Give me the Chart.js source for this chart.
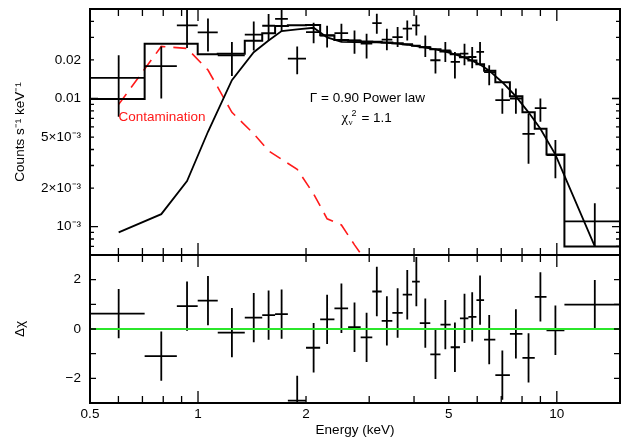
<!DOCTYPE html>
<html>
<head>
<meta charset="utf-8">
<script src="https://cdn.jsdelivr.net/npm/chart.js@4.4.1/dist/chart.umd.min.js"></script>
<style>
  body { margin: 0; background: #fff; }
  canvas { display: block; }
</style>
</head>
<body>
<canvas id="spectre" width="623" height="437"></canvas>
<script>
// Bornes des canaux en énergie (keV)
let binEdges = [0.5, 0.71, 0.873, 0.998, 1.135, 1.35, 1.51, 1.64, 1.78, 2.0, 2.19, 2.4, 2.62, 2.84, 3.06, 3.25,
  3.48, 3.72, 3.95, 4.15, 4.44, 4.74, 5.06, 5.37, 5.67, 5.97, 6.27, 6.74, 7.4, 8.02, 8.68, 9.36, 10.5, 15];

// Centre de chaque canal (keV)
let energy = [0.601, 0.79, 0.932, 1.066, 1.243, 1.43, 1.573, 1.71, 1.89, 2.1, 2.29, 2.51, 2.73, 2.95, 3.15, 3.36,
  3.6, 3.83, 4.06, 4.3, 4.59, 4.89, 5.2, 5.53, 5.81, 6.11, 6.48, 7.05, 7.69, 8.34, 9.0, 9.91, 12.76];

// Taux mesuré (coups s-1 keV-1) et barres d'erreur
let rate = [0.0145, 0.0179, 0.0372, 0.0328, 0.0217, 0.0315, 0.037, 0.0418, 0.0205, 0.033, 0.031, 0.0324, 0.0284,
  0.0268, 0.0388, 0.0288, 0.0302, 0.0351, 0.0372, 0.0252, 0.0199, 0.0238, 0.0193, 0.0224, 0.0211, 0.0231, 0.0161,
  0.0097, 0.01, 0.0053, 0.0084, 0.00362, 0.0011];
let rateLow = [0.0072, 0.01, 0.0248, 0.0233, 0.015, 0.0237, 0.0283, 0.0336, 0.0155, 0.027, 0.025, 0.0276, 0.0224,
  0.0205, 0.032, 0.0238, 0.0252, 0.0284, 0.0311, 0.0211, 0.0157, 0.0193, 0.0143, 0.0182, 0.0172, 0.0182, 0.0127,
  0.0076, 0.0076, 0.0031, 0.0066, 0.00238, 0.0007];
let rateHigh = [0.0218, 0.0255, 0.0496, 0.0422, 0.0276, 0.04, 0.0457, 0.05, 0.0255, 0.039, 0.037, 0.0384, 0.034,
  0.032, 0.0459, 0.0351, 0.0361, 0.0407, 0.0446, 0.0311, 0.0245, 0.0276, 0.0231, 0.0268, 0.0252, 0.0276, 0.0182,
  0.012, 0.012, 0.0076, 0.01, 0.00474, 0.00152];

// Modèle total par canal (histogramme)
let modelStep = [0.0099, 0.0268, 0.0268, 0.0222, 0.0224, 0.0283, 0.0323, 0.0369, 0.0374, 0.0375, 0.0312, 0.0287,
  0.0283, 0.0279, 0.0277, 0.0274, 0.027, 0.0265, 0.0258, 0.0251, 0.0243, 0.0233, 0.0222, 0.021, 0.0198, 0.0185,
  0.0165, 0.0134, 0.0104, 0.0078, 0.0058, 0.00366, 0.0007];

// Composante loi de puissance (courbe continue)
let powerLaw = [0.0009, 0.00125, 0.00227, 0.0055, 0.0139, 0.023, 0.0284, 0.0336, 0.0346, 0.0357, 0.03, 0.0277,
  0.0276, 0.0275, 0.0274, 0.0272, 0.0268, 0.0263, 0.0257, 0.025, 0.0242, 0.0232, 0.0221, 0.0209, 0.0197, 0.0184,
  0.0165, 0.0134, 0.0104, 0.0078, 0.0058, 0.00365, 0.0007];

// Composante de contamination (tirets rouges)
let contamEnergy = [0.601, 0.79, 0.932, 1.066, 1.243, 1.43, 1.573, 1.71, 1.89, 2.1, 2.29, 2.51, 2.73, 2.95, 3.15];
let contamination = [0.009, 0.0255, 0.0246, 0.0167, 0.0078, 0.0053, 0.0039, 0.00335, 0.0028, 0.0018, 0.00115,
  0.00103, 0.00072, 0.00053, 0.0004];

// Résidus (delta chi)
let residual = [0.62, -1.1, 0.93, 1.15, -0.15, 0.46, 0.56, 0.6, -2.9, -0.76, 0.39, 0.84, 0.07, -0.34, 1.52, 0.33,
  0.65, 1.39, 1.92, 0.24, -1.03, 0.18, -0.74, 0.43, 0.49, 1.17, -0.43, -1.87, -0.2, -1.17, 1.3, -0.05, 0.99];
let residualErr = [1, 1, 1, 1, 1, 1, 1, 1, 1, 1, 1, 1, 1, 1, 1, 1, 1, 1, 1, 1, 1, 1, 1, 1, 1, 1, 1, 1, 1, 1, 1, 1, 1];

// Axes
let xMin = 0.5, xMax = 15;
let yMin = 0.0006, yMax = 0.05;
let resMin = -3, resMax = 3;
let xTicks = [0.5, 1, 2, 5, 10];
let xTickLabels = ["0.5", "1", "2", "5", "10"];
let xMajor = [1, 10];
let xMinor = [0.6, 0.7, 0.8, 0.9, 2, 3, 4, 5, 6, 7, 8, 9];
let yTicks = [0.001, 0.002, 0.005, 0.01, 0.02];
let yTickLabels = ["10⁻³", "2×10⁻³", "5×10⁻³", "0.01", "0.02"];
let yMajor = [0.001, 0.01];
let yMinor = [0.0007, 0.0008, 0.0009, 0.002, 0.003, 0.004, 0.005, 0.006, 0.007, 0.008, 0.009, 0.02, 0.03, 0.04];
let resTicks = [-2, 0, 2];
let resTickLabels = ["−2", "0", "2"];
let resMinor = [-2, -1, 0, 1, 2];

// Textes posés dans le graphique (énergie, valeur)
let gammaLabel = { text: "Γ = 0.90 Power law", x: 2.05, y: 0.0100 };
let chiLabel = { text: "= 1.1", x: 2.51, y: 0.0070 };
let contamLabel = { text: "Contamination", x: 0.6, y: 0.00715 };

let police = '"Liberation Sans", Arial, sans-serif';

// Fonction pour construire les croix (barres d'erreur)
function buildCrosses(xs, ys, lows, highs) {
  let pts = [];
  for (let i = 0; i < xs.length; i++) {
    pts.push({ x: binEdges[i], y: ys[i] }, { x: binEdges[i + 1], y: ys[i] }, { x: xs[i], y: null });
    pts.push({ x: xs[i], y: lows[i] }, { x: xs[i], y: highs[i] }, { x: xs[i], y: null });
  }
  return pts;
}

// Fonction pour construire l'histogramme du modèle
function buildSteps(vals) {
  let pts = [];
  for (let i = 0; i < vals.length; i++) {
    pts.push({ x: binEdges[i], y: vals[i] }, { x: binEdges[i + 1], y: vals[i] });
  }
  return pts;
}

function pairs(xs, ys) {
  return xs.map(function(x, i) { return { x: x, y: ys[i] }; });
}

let resLow = residual.map(function(r, i) { return r - residualErr[i]; });
let resHigh = residual.map(function(r, i) { return r + residualErr[i]; });

// Cadre, graduations et annotations
let cadre = {
  id: 'cadre',
  afterDatasetsDraw(chart) {
    let ctx = chart.ctx;
    let sx = chart.scales.x;
    let panels = [
      { s: chart.scales.y, major: yMajor, minor: yMinor },
      { s: chart.scales.yr, major: [], minor: resMinor }
    ];
    ctx.save();
    ctx.strokeStyle = '#000';
    panels.forEach(function(p) {
      let s = p.s;
      ctx.lineWidth = 1.3;
      ctx.beginPath();
      xMajor.concat(xMinor).forEach(function(v) {
        let len = xMajor.includes(v) ? 12 : 7;
        let px = sx.getPixelForValue(v);
        ctx.moveTo(px, s.top); ctx.lineTo(px, s.top + len);
        ctx.moveTo(px, s.bottom); ctx.lineTo(px, s.bottom - len);
      });
      p.major.concat(p.minor).forEach(function(v) {
        let len = p.major.includes(v) ? 8 : (s.id === 'yr' ? 6 : 4);
        let py = s.getPixelForValue(v);
        ctx.moveTo(sx.left, py); ctx.lineTo(sx.left + len, py);
        ctx.moveTo(sx.right, py); ctx.lineTo(sx.right - len, py);
      });
      ctx.stroke();
      ctx.lineWidth = 2;
      ctx.strokeRect(sx.left, s.top, sx.right - sx.left, s.bottom - s.top);
    });
    ctx.restore();
  },
  afterDraw(chart) {
    let ctx = chart.ctx;
    let sx = chart.scales.x;
    let sy = chart.scales.y;
    ctx.save();
    ctx.textBaseline = 'middle';
    ctx.textAlign = 'left';
    ctx.fillStyle = '#000';
    ctx.font = '13.5px ' + police;
    ctx.fillText(gammaLabel.text, sx.getPixelForValue(gammaLabel.x), sy.getPixelForValue(gammaLabel.y));

    // chi carré réduit avec indice et exposant
    let cx = sx.getPixelForValue(chiLabel.x);
    let cy = sy.getPixelForValue(chiLabel.y);
    ctx.font = '15px "Liberation Serif", serif';
    ctx.fillText('χ', cx, cy);
    ctx.font = '9px "Liberation Serif", serif';
    ctx.fillText('ν', cx + 7, cy + 4);
    ctx.font = '9px ' + police;
    ctx.fillText('2', cx + 10, cy - 5);
    ctx.font = '13.5px ' + police;
    ctx.fillText(chiLabel.text, cx + 20, cy);

    ctx.fillStyle = '#ff1a1a';
    ctx.fillText(contamLabel.text, sx.getPixelForValue(contamLabel.x), sy.getPixelForValue(contamLabel.y));
    ctx.restore();
  }
};

let tickFont = { family: police, size: 13.5 };
let titleFont = { family: police, size: 13.5, lineHeight: 1 };

// Largeur fixe des axes verticaux, sans marge automatique
function fixeAxeY(s) {
  s.width = 90;
  s.paddingTop = 0;
  s.paddingBottom = 0;
}

let spectre = new Chart(document.getElementById('spectre').getContext('2d'), {
  type: 'line',
  data: {
    datasets: [
      {
        // ligne zéro des résidus
        data: [{ x: xMin, y: 0 }, { x: xMax, y: 0 }],
        yAxisID: 'yr',
        borderColor: '#2be62b',
        borderWidth: 2
      },
      {
        data: buildCrosses(energy, residual, resLow, resHigh),
        yAxisID: 'yr',
        borderColor: '#000',
        borderWidth: 1.8
      },
      {
        data: buildCrosses(energy, rate, rateLow, rateHigh),
        yAxisID: 'y',
        borderColor: '#000',
        borderWidth: 1.8
      },
      {
        data: buildSteps(modelStep),
        yAxisID: 'y',
        borderColor: '#000',
        borderWidth: 2
      },
      {
        data: pairs(energy, powerLaw),
        yAxisID: 'y',
        borderColor: '#000',
        borderWidth: 1.8
      },
      {
        data: pairs(contamEnergy, contamination),
        yAxisID: 'y',
        borderColor: '#ff1a1a',
        borderWidth: 1.6,
        borderDash: [13, 8]
      }
    ]
  },
  options: {
    responsive: false,
    animation: false,
    devicePixelRatio: 1,
    layout: { padding: { left: 0, right: 3, top: 9, bottom: 0 } },
    elements: { point: { radius: 0 }, line: { tension: 0, fill: false } },
    plugins: { legend: { display: false }, tooltip: { enabled: false } },
    scales: {
      x: {
        type: 'logarithmic',
        position: 'bottom',
        min: xMin,
        max: xMax,
        grid: { display: false, drawTicks: false },
        border: { display: false },
        afterBuildTicks: function(s) { s.ticks = xTicks.map(function(v) { return { value: v }; }); },
        afterFit: function(s) { s.height = 34; s.paddingLeft = 0; s.paddingRight = 0; },
        ticks: {
          autoSkip: false, maxRotation: 0, padding: 3, color: '#000', font: tickFont,
          callback: function(v) { let i = xTicks.indexOf(v); return i >= 0 ? xTickLabels[i] : ''; }
        },
        title: { display: true, text: 'Energy (keV)', color: '#000', font: titleFont, padding: { top: 0, bottom: 0 } }
      },
      yr: {
        type: 'linear',
        position: 'left',
        stack: 'panneaux',
        stackWeight: 148,
        min: resMin,
        max: resMax,
        grid: { display: false, drawTicks: false },
        border: { display: false },
        afterBuildTicks: function(s) { s.ticks = resTicks.map(function(v) { return { value: v }; }); },
        afterFit: fixeAxeY,
        ticks: {
          autoSkip: false, padding: 9, color: '#000', font: tickFont,
          callback: function(v) { let i = resTicks.indexOf(v); return i >= 0 ? resTickLabels[i] : ''; }
        },
        title: { display: true, text: 'Δχ', color: '#000', font: titleFont, padding: { top: 13.5, bottom: 0 } }
      },
      y: {
        type: 'logarithmic',
        position: 'left',
        stack: 'panneaux',
        stackWeight: 246,
        min: yMin,
        max: yMax,
        grid: { display: false, drawTicks: false },
        border: { display: false },
        afterBuildTicks: function(s) { s.ticks = yTicks.map(function(v) { return { value: v }; }); },
        afterFit: fixeAxeY,
        ticks: {
          autoSkip: false, padding: 9, color: '#000', font: tickFont,
          callback: function(v) { let i = yTicks.indexOf(v); return i >= 0 ? yTickLabels[i] : ''; }
        },
        title: { display: true, text: 'Counts s⁻¹ keV⁻¹', color: '#000', font: titleFont, padding: { top: 13.5, bottom: 0 } }
      }
    }
  },
  plugins: [cadre]
});
</script>
</body>
</html>
